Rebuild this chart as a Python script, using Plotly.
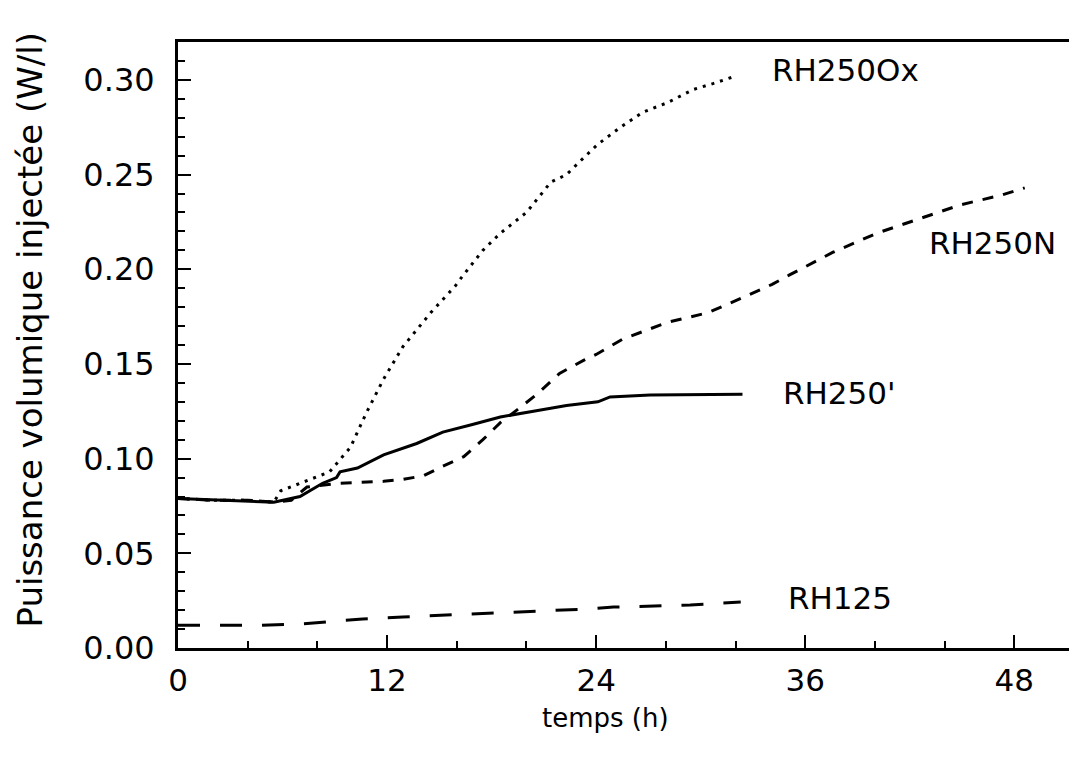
import plotly.graph_objects as go

# temps (h) et puissance volumique injectée (W/l)
t_ox = [0, 2, 4, 5.5, 5.9, 7.0, 8.7, 9.9, 10.8, 11.8, 12.9, 14.5, 15.9, 16.3, 17.5,
        18.5, 20.0, 21.4, 22.3, 23.3, 24.1, 25.4, 26.7, 28.1, 29.6, 30.7, 32.0]
p_ox = [0.079, 0.078, 0.078, 0.077, 0.083, 0.087, 0.093, 0.106, 0.124, 0.142, 0.159,
        0.177, 0.191, 0.196, 0.210, 0.219, 0.230, 0.246, 0.250, 0.259, 0.266, 0.275,
        0.283, 0.288, 0.295, 0.298, 0.302]

t_n = [0, 2, 4, 5.5, 6.5, 7.4, 9.3, 11.8, 12.9, 14.1, 15.2, 16.4, 17.5, 18.5, 19.5,
       20.6, 21.9, 23.3, 24.0, 25.5, 28.1, 30.4, 32.4, 34.1, 35.1, 37.6, 40.1, 42.4,
       44.9, 47.2, 48.6]
p_n = [0.079, 0.078, 0.078, 0.077, 0.078, 0.085, 0.087, 0.088, 0.089, 0.091, 0.096,
       0.101, 0.110, 0.119, 0.126, 0.134, 0.145, 0.152, 0.155, 0.163, 0.172, 0.177,
       0.185, 0.192, 0.197, 0.209, 0.219, 0.226, 0.234, 0.239, 0.243]

t_p = [0, 3, 5.5, 7.0, 8.3, 9.1, 9.3, 10.3, 11.8, 13.7, 15.2, 16.9, 18.5, 20.4, 22.3,
       24.1, 24.8, 27.1, 32.4]
p_p = [0.079, 0.078, 0.077, 0.080, 0.087, 0.090, 0.093, 0.095, 0.102, 0.108, 0.114,
       0.118, 0.122, 0.125, 0.128, 0.130, 0.1326, 0.1336, 0.134]

t_125 = [0, 4.7, 7.0, 10.6, 12.9, 15.2, 18.7, 21.0, 23.5, 25.0, 29.4, 32.3]
p_125 = [0.012, 0.012, 0.0127, 0.0153, 0.0164, 0.0174, 0.019, 0.0196, 0.0206,
         0.0216, 0.0227, 0.0243]

# étiquettes des courbes : (texte, t, puissance)
etiquettes = [("RH250Ox", 34.0, 0.305), ("RH250N", 43.0, 0.214),
              ("RH250'", 34.6, 0.1347), ("RH125", 34.9, 0.0264)]

FONT = "DejaVu Sans, Liberation Sans, sans-serif"

fig = go.Figure()
fig.add_trace(go.Scatter(x=t_ox, y=p_ox, mode="lines",
                         line={"color": "black", "width": 3, "dash": "3px,6px"}))
fig.add_trace(go.Scatter(x=t_n, y=p_n, mode="lines",
                         line={"color": "black", "width": 3, "dash": "11px,10px"}))
fig.add_trace(go.Scatter(x=t_p, y=p_p, mode="lines",
                         line={"color": "black", "width": 3}))
fig.add_trace(go.Scatter(x=t_125, y=p_125, mode="lines",
                         line={"color": "black", "width": 3, "dash": "22px,20px"}))

for txt, tx, ty in etiquettes:
    fig.add_annotation(x=tx, y=ty, text=txt, showarrow=False, xanchor="left",
                       yanchor="middle", font={"size": 31, "color": "black"})

fig.add_annotation(x=0.475, y=-0.1155, xref="paper", yref="paper", text="temps (h)",
                   showarrow=False, xanchor="center", yanchor="middle",
                   font={"size": 26, "color": "black"})
fig.add_annotation(x=-0.165, y=0.525, xref="paper", yref="paper",
                   text="Puissance volumique injectée (W/l)", textangle=-90,
                   showarrow=False, xanchor="center", yanchor="middle",
                   font={"size": 34, "color": "black"})

fig.update_layout(
    width=1069, height=755,
    margin={"l": 170, "r": 0, "t": 34, "b": 115},
    showlegend=False,
    plot_bgcolor="white",
    paper_bgcolor="white",
    font={"family": FONT, "size": 31, "color": "black"},
    xaxis=dict(range=[0, 51.6], tickvals=[0, 12, 24, 36, 48], ticks="inside",
               ticklen=13, tickwidth=2, tickcolor="black",
               minor=dict(dtick=4, ticks="inside", ticklen=7, tickwidth=2, tickcolor="black"),
               showline=True, linecolor="black", linewidth=3, mirror=True,
               showgrid=False, zeroline=False, ticklabelstandoff=3),
    yaxis=dict(range=[0, 0.32], dtick=0.05, tickformat=".2f", ticks="inside",
               ticklen=13, tickwidth=2, tickcolor="black", tickfont={"size": 32},
               minor=dict(dtick=0.01, ticks="inside", ticklen=7, tickwidth=2, tickcolor="black"),
               showline=True, linecolor="black", linewidth=3,
               showgrid=False, zeroline=False, ticklabelstandoff=14),
)

fig.write_html("out.html")
